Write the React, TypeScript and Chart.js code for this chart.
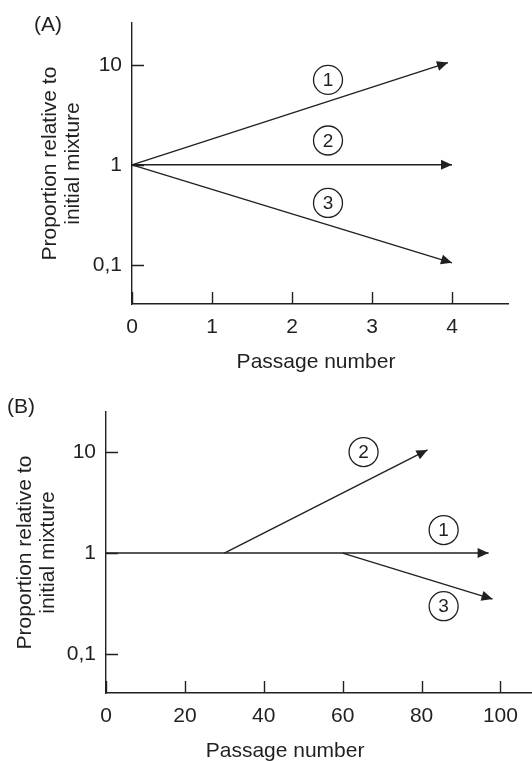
import React, { useEffect, useRef } from 'react';
import { Chart, registerables } from 'chart.js';

Chart.register(...registerables);

const FONT = '"Liberation Sans", Arial, Helvetica, sans-serif';
const INK = '#231f20';

// ---- shared y axis ----
const yTickValues = [0.1, 1, 10];
const yTickLabels = ['0,1', '1', '10'];
const yTitleLines = ['Proportion relative to', 'initial mixture'];
const xTitleText = 'Passage number';

// ---- panel A ----
const xTickValuesA = [0, 1, 2, 3, 4];
const xTickLabelsA = ['0', '1', '2', '3', '4'];
const seriesA1X = [0, 3.95];
const seriesA1Y = [1, 10.5];
const seriesA2X = [0, 4.0];
const seriesA2Y = [1, 1];
const seriesA3X = [0, 4.0];
const seriesA3Y = [1, 0.105];
const circleTextA = ['1', '2', '3'];
const circleXA = [2.45, 2.45, 2.45];
const circleYA = [7.06, 1.75, 0.416];

// ---- panel B ----
const xTickValuesB = [0, 20, 40, 60, 80, 100];
const xTickLabelsB = ['0', '20', '40', '60', '80', '100'];
const seriesB1X = [0, 97];
const seriesB1Y = [1, 1];
const seriesB2X = [30, 81.5];
const seriesB2Y = [1, 10.5];
const seriesB3X = [60, 98];
const seriesB3Y = [1, 0.35];
const circleTextB = ['2', '1', '3'];
const circleXB = [65.3, 85.6, 85.6];
const circleYB = [10, 1.69, 0.298];

const toPoints = (xs: number[], ys: number[]) => xs.map((x, i) => ({ x, y: ys[i] }));

const decorPlugin = {
  id: 'decor',
  afterDatasetsDraw(chart: any, _args: any, opts: any) {
    const ctx = chart.ctx as CanvasRenderingContext2D;
    const xs = chart.scales.x;
    const ys = chart.scales.y;
    const area = chart.chartArea;
    ctx.save();
    // inward tick marks
    ctx.strokeStyle = INK;
    ctx.lineWidth = 1.4;
    ctx.beginPath();
    xs.ticks.forEach((t: any) => {
      const px = Math.round(xs.getPixelForValue(t.value)) + 0.5;
      ctx.moveTo(px, area.bottom);
      ctx.lineTo(px, area.bottom - opts.tickLen);
    });
    ys.ticks.forEach((t: any) => {
      const py = Math.round(ys.getPixelForValue(t.value)) + 0.5;
      ctx.moveTo(area.left, py);
      ctx.lineTo(area.left + opts.tickLen, py);
    });
    ctx.stroke();

    // arrowheads at the end of each series
    chart.data.datasets.forEach((_ds: any, i: number) => {
      const pts = chart.getDatasetMeta(i).data;
      const n = pts.length;
      if (n < 2) return;
      const a = pts[n - 2];
      const b = pts[n - 1];
      const ang = Math.atan2(b.y - a.y, b.x - a.x);
      ctx.save();
      ctx.translate(b.x, b.y);
      ctx.rotate(ang);
      ctx.beginPath();
      ctx.moveTo(0, 0);
      ctx.lineTo(-opts.arrowLen, opts.arrowHalf);
      ctx.lineTo(-opts.arrowLen, -opts.arrowHalf);
      ctx.closePath();
      ctx.fillStyle = INK;
      ctx.fill();
      ctx.restore();
    });

    // circled series numbers
    ctx.font = `${opts.circleFont}px ${FONT}`;
    ctx.textAlign = 'center';
    ctx.textBaseline = 'middle';
    opts.circleText.forEach((txt: string, i: number) => {
      const cx = xs.getPixelForValue(opts.circleX[i]);
      const cy = ys.getPixelForValue(opts.circleY[i]);
      ctx.beginPath();
      ctx.arc(cx, cy, opts.circleR, 0, Math.PI * 2);
      ctx.fillStyle = '#ffffff';
      ctx.fill();
      ctx.lineWidth = 1.3;
      ctx.strokeStyle = INK;
      ctx.stroke();
      ctx.fillStyle = INK;
      ctx.fillText(txt, cx, cy + 1);
    });

    // x-axis title
    ctx.font = `21px ${FONT}`;
    ctx.fillStyle = INK;
    ctx.textAlign = 'center';
    ctx.textBaseline = 'middle';
    ctx.fillText(opts.xTitle, xs.getPixelForValue(opts.xTitleAt), area.bottom + opts.xTitleOffset);
    ctx.restore();
  },
};

type PanelSpec = {
  width: number;
  height: number;
  xMin: number;
  xMax: number;
  yMin: number;
  yMax: number;
  yAxisWidth: number;
  xAxisHeight: number;
  padTop: number;
  padRight: number;
  yTitlePad: number;
  xTickValues: number[];
  xTickLabels: string[];
  series: { x: number[]; y: number[] }[];
  circleText: string[];
  circleX: number[];
  circleY: number[];
  xTitleAt: number;
};

function Panel({ spec }: { spec: PanelSpec }) {
  const ref = useRef<HTMLCanvasElement | null>(null);
  useEffect(() => {
    if (!ref.current) return;
    const chart = new Chart(ref.current, {
      type: 'line',
      data: {
        datasets: spec.series.map((s) => ({
          data: toPoints(s.x, s.y),
          borderColor: INK,
          borderWidth: 1.4,
          pointRadius: 0,
          pointHoverRadius: 0,
          fill: false,
          tension: 0,
          clip: false as any,
        })),
      },
      options: {
        responsive: false,
        animation: false,
        devicePixelRatio: 1,
        layout: { padding: { top: spec.padTop, right: spec.padRight, bottom: 0, left: 0 } },
        plugins: {
          legend: { display: false },
          tooltip: { enabled: false },
          decor: {
            tickLen: 12,
            arrowLen: 11,
            arrowHalf: 5,
            circleR: 14.5,
            circleFont: 19,
            circleText: spec.circleText,
            circleX: spec.circleX,
            circleY: spec.circleY,
            xTitle: xTitleText,
            xTitleAt: spec.xTitleAt,
            xTitleOffset: 58,
          },
        } as any,
        scales: {
          x: {
            type: 'linear',
            min: spec.xMin,
            max: spec.xMax,
            grid: { display: false, drawTicks: false, tickLength: 0 },
            border: { display: true, color: INK, width: 1.4 },
            afterBuildTicks: (scale: any) => {
              scale.ticks = spec.xTickValues.map((v) => ({ value: v }));
            },
            afterFit: (scale: any) => {
              scale.height = spec.xAxisHeight;
            },
            ticks: {
              autoSkip: false,
              maxRotation: 0,
              padding: 11,
              color: INK,
              font: { family: FONT, size: 21 },
              callback: (_v: any, i: number) => spec.xTickLabels[i],
            },
          },
          y: {
            type: 'logarithmic',
            min: spec.yMin,
            max: spec.yMax,
            grid: { display: false, drawTicks: false, tickLength: 0 },
            border: { display: true, color: INK, width: 1.4 },
            afterBuildTicks: (scale: any) => {
              scale.ticks = yTickValues.map((v) => ({ value: v }));
            },
            afterFit: (scale: any) => {
              scale.width = spec.yAxisWidth;
            },
            ticks: {
              autoSkip: false,
              padding: 10,
              color: INK,
              font: { family: FONT, size: 21 },
              callback: (_v: any, i: number) => yTickLabels[i],
            },
            title: {
              display: true,
              text: yTitleLines,
              color: INK,
              font: { family: FONT, size: 21, lineHeight: 1.1 },
              padding: { top: spec.yTitlePad, bottom: 0 },
            },
          },
        },
      } as any,
      plugins: [decorPlugin],
    });
    return () => chart.destroy();
  }, [spec]);
  return <canvas ref={ref} width={spec.width} height={spec.height} style={{ display: 'block', width: spec.width, height: spec.height }} />;
}

const specA: PanelSpec = {
  width: 532,
  height: 380,
  xMin: 0,
  xMax: 4.7,
  yMin: 0.0407,
  yMax: 26.1,
  yAxisWidth: 132,
  xAxisHeight: 76,
  padTop: 23,
  padRight: 24,
  yTitlePad: 39,
  xTickValues: xTickValuesA,
  xTickLabels: xTickLabelsA,
  series: [
    { x: seriesA1X, y: seriesA1Y },
    { x: seriesA2X, y: seriesA2Y },
    { x: seriesA3X, y: seriesA3Y },
  ],
  circleText: circleTextA,
  circleX: circleXA,
  circleY: circleYA,
  xTitleAt: 2.3,
};

const specB: PanelSpec = {
  width: 532,
  height: 381,
  xMin: 0,
  xMax: 108,
  yMin: 0.0412,
  yMax: 24.9,
  yAxisWidth: 106,
  xAxisHeight: 68,
  padTop: 32,
  padRight: 0,
  yTitlePad: 14,
  xTickValues: xTickValuesB,
  xTickLabels: xTickLabelsB,
  series: [
    { x: seriesB1X, y: seriesB1Y },
    { x: seriesB2X, y: seriesB2Y },
    { x: seriesB3X, y: seriesB3Y },
  ],
  circleText: circleTextB,
  circleX: circleXB,
  circleY: circleYB,
  xTitleAt: 45.4,
};

const panelLabel: React.CSSProperties = {
  position: 'absolute',
  fontFamily: FONT,
  fontSize: 21,
  lineHeight: '24px',
  color: INK,
  whiteSpace: 'nowrap',
};

export default function App() {
  return (
    <div style={{ position: 'absolute', left: 0, top: 0, width: 532, height: 761, background: '#ffffff', overflow: 'hidden' }}>
      <div style={{ position: 'absolute', left: 0, top: 0 }}>
        <Panel spec={specA} />
      </div>
      <div style={{ position: 'absolute', left: 0, top: 380 }}>
        <Panel spec={specB} />
      </div>
      <div style={{ ...panelLabel, left: 34, top: 12 }}>(A)</div>
      <div style={{ ...panelLabel, left: 7, top: 394 }}>(B)</div>
    </div>
  );
}
